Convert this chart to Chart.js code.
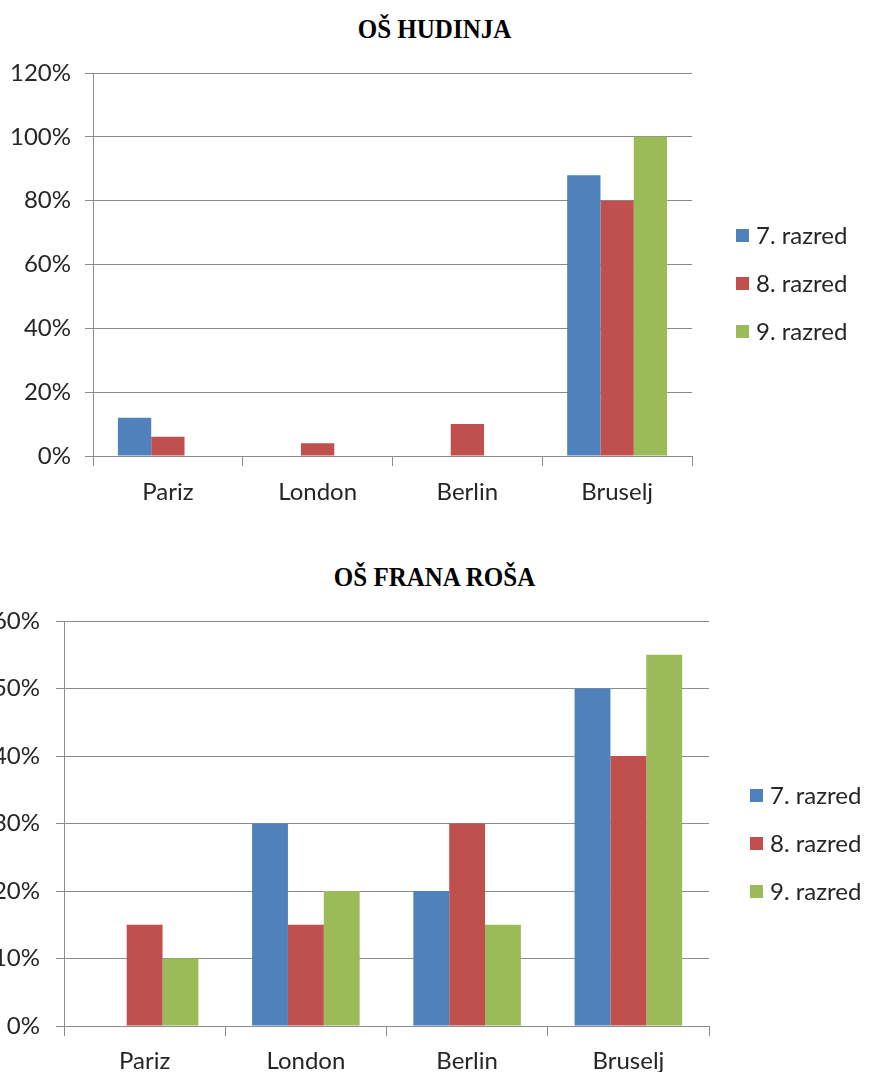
<!DOCTYPE html>
<html>
<head>
<meta charset="utf-8">
<script src="https://cdn.jsdelivr.net/npm/chart.js@4/dist/chart.umd.min.js"></script>
<style>
  body { margin: 0; background: #fff; width: 869px; height: 1072px; overflow: hidden; position: relative; }
  .title { position: absolute; left: 0; width: 869px; text-align: center; font-family: "Liberation Serif", serif; font-weight: bold; font-size: 25px; color: #000; transform: scaleY(1.08); }
  .legend { position: absolute; font-family: Lato, sans-serif; font-size: 24px; color: #262626; }
  .legend div { height: 48px; line-height: 48px; white-space: nowrap; }
  .legend span { display: inline-block; width: 13px; height: 13px; margin-right: 7px; vertical-align: middle; position: relative; top: -2px; }
  canvas { position: absolute; left: 0; }
</style>
</head>
<body>
<div class="title" style="top:15px">OŠ HUDINJA</div>
<canvas id="chartHudinja" width="869" height="536" style="top:0"></canvas>
<div class="legend" id="legendHudinja" style="left:736px; top:211px"></div>

<div class="title" style="top:563px">OŠ FRANA ROŠA</div>
<canvas id="chartFrana" width="869" height="536" style="top:536px"></canvas>
<div class="legend" id="legendFrana" style="left:750px; top:771px"></div>

<script>
// data (percent)
let cities = ['Pariz', 'London', 'Berlin', 'Bruselj'];
let grades = ['7. razred', '8. razred', '9. razred'];
let gradeColors = ['#4F81BD', '#C0504D', '#9BBB59'];

let hudinja7 = [12, 0, 0, 88];
let hudinja8 = [6, 4, 10, 80];
let hudinja9 = [0, 0, 0, 100];

let frana7 = [0, 30, 20, 50];
let frana8 = [15, 15, 30, 40];
let frana9 = [10, 20, 15, 55];

let gridColor = '#8c8c8c';
let textColor = '#262626';
let tickFont = { family: 'Lato', size: 24 };

function MakeChart(canvasId, series, yMax, yStep, area){
  let ctx = document.getElementById(canvasId).getContext('2d');

  let datasets = [];
  for(let i=0; i<series.length; i++){
    datasets.push({
      label: grades[i],
      data: series[i],
      backgroundColor: gradeColors[i],
      borderWidth: 0,
      categoryPercentage: 0.667,
      barPercentage: 1
    });
  }

  return new Chart(ctx, {
    type: 'bar',
    data: {
      labels: cities,
      datasets: datasets
    },
    options: {
      responsive: false,
      animation: false,
      layout: {
        padding: { top: area.top, right: area.right, bottom: area.bottom, left: 0 }
      },
      plugins: {
        legend: { display: false },
        title: { display: false },
        tooltip: { enabled: false }
      },
      scales: {
        x: {
          grid: { drawOnChartArea: false, drawTicks: true, tickLength: 10, color: gridColor, offset: true },
          border: { color: gridColor },
          ticks: { font: tickFont, color: textColor, padding: area.xPad },
          afterFit: (scale) => { scale.height = area.xHeight; }
        },
        y: {
          min: 0,
          max: yMax,
          ticks: {
            stepSize: yStep,
            font: tickFont,
            color: textColor,
            padding: area.yPad,
            callback: (v) => v + '%'
          },
          grid: { color: gridColor, tickLength: 8 },
          border: { color: gridColor },
          afterFit: (scale) => { scale.width = area.left; }
        }
      }
    }
  });
}

function MakeLegend(divId){
  let html = '';
  for(let i=0; i<grades.length; i++){
    html += '<div><span style="background:' + gradeColors[i] + '"></span>' + grades[i] + '</div>';
  }
  document.getElementById(divId).innerHTML = html;
}

// top chart: plot area 93..692 x 73..456
MakeChart('chartHudinja', [hudinja7, hudinja8, hudinja9], 120, 20,
  { top: 73, right: 177, bottom: 30, left: 93, xHeight: 50, xPad: 12, yPad: 14 });

// bottom chart: plot area 64..709 x 621..1026 (canvas starts at 536)
MakeChart('chartFrana', [frana7, frana8, frana9], 60, 10,
  { top: 85, right: 160, bottom: 0, left: 64, xHeight: 46, xPad: 11, yPad: 16 });

MakeLegend('legendHudinja');
MakeLegend('legendFrana');
</script>
</body>
</html>
